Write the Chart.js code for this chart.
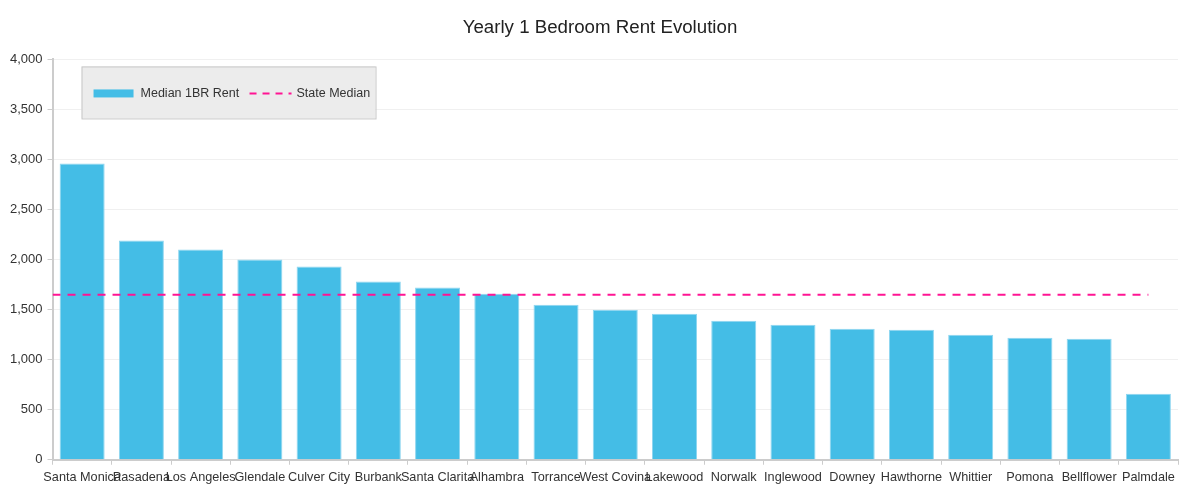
<!DOCTYPE html>
<html lang="en">
  <head>
    <meta charset="utf-8" />
    <title>Yearly 1 Bedroom Rent Evolution</title>
    <style>
      * {
        margin: 0;
        padding: 0;
      }
      body {
        background: #fff;
      }
      .chartBox {
        width: 1200px;
        height: 494px;
      }
    </style>
  </head>
  <body>
    <div class="chartBox">
      <canvas id="myChart"></canvas>
    </div>

    <script src="https://cdn.jsdelivr.net/npm/chart.js@4.4.1/dist/chart.umd.min.js"></script>

    <script>
      // data block
      const cities = [
        "Santa Monica", "Pasadena", "Los Angeles", "Glendale", "Culver City",
        "Burbank", "Santa Clarita", "Alhambra", "Torrance", "West Covina",
        "Lakewood", "Norwalk", "Inglewood", "Downey", "Hawthorne",
        "Whittier", "Pomona", "Bellflower", "Palmdale",
      ];
      const medianRent = [
        2960, 2190, 2100, 2000, 1930, 1780, 1720, 1660, 1550, 1500,
        1460, 1390, 1350, 1310, 1300, 1250, 1220, 1210, 660,
      ];
      const stateMedian = 1650;
      const yTicks = [0, 500, 1000, 1500, 2000, 2500, 3000, 3500, 4000];

      // the reference line runs from the left edge to the last bar's centre
      const stateLine = [
        { x: -0.5, y: stateMedian },
        { x: cities.length - 1, y: stateMedian },
      ];

      const barColor = "#44bde6";
      const lineColor = "#ff1493";
      const fontFamily = "'Liberation Sans', Arial, sans-serif";
      const titleText = "Yearly 1 Bedroom Rent Evolution";

      // title centred on the whole canvas (the built-in one only reserves space)
      const centerTitle = {
        id: "centerTitle",
        afterDraw(chart) {
          const { ctx, width } = chart;
          const box = chart.titleBlock;
          ctx.save();
          ctx.font = "18.7px " + fontFamily;
          ctx.fillStyle = "#222";
          ctx.textAlign = "center";
          ctx.textBaseline = "middle";
          ctx.fillText(titleText, width / 2, box.top + 8 + (box.height - 28) / 2);
          ctx.restore();
        },
      };

      // legend box drawn inside the plot area
      const boxLegend = {
        id: "boxLegend",
        afterDraw(chart) {
          const { ctx, chartArea } = chart;
          const x = chartArea.left + 29;
          const y = chartArea.top + 7;
          const w = 294;
          const h = 52;
          ctx.save();
          ctx.fillStyle = "#ececec";
          ctx.strokeStyle = "#c8c8c8";
          ctx.lineWidth = 1;
          ctx.fillRect(x, y, w, h);
          ctx.strokeRect(x + 0.5, y + 0.5, w, h);

          const cy = y + h / 2 + 1;
          ctx.fillStyle = barColor;
          ctx.fillRect(x + 12, cy - 4, 40, 8);

          ctx.font = "12.5px " + fontFamily;
          ctx.fillStyle = "#333";
          ctx.textBaseline = "middle";
          ctx.fillText("Median 1BR Rent", x + 59, cy);

          ctx.strokeStyle = lineColor;
          ctx.lineWidth = 2;
          ctx.setLineDash([7, 6]);
          ctx.beginPath();
          ctx.moveTo(x + 168, cy);
          ctx.lineTo(x + 210, cy);
          ctx.stroke();
          ctx.setLineDash([]);
          ctx.fillStyle = "#333";
          ctx.fillText("State Median", x + 215, cy);
          ctx.restore();
        },
      };

      // config block
      const config = {
        type: "bar",
        data: {
          labels: cities,
          datasets: [
            {
              type: "line",
              label: "State Median",
              data: stateLine,
              xAxisID: "x2",
              borderColor: lineColor,
              borderWidth: 2,
              borderDash: [8, 7],
              pointRadius: 0,
              fill: false,
            },
            {
              type: "bar",
              label: "Median 1BR Rent",
              data: medianRent,
              xAxisID: "x",
              grouped: false,
              backgroundColor: barColor,
              borderColor: "#8fd6f0",
              borderWidth: 1,
              barPercentage: 0.76,
              categoryPercentage: 1,
            },
          ],
        },
        options: {
          responsive: true,
          maintainAspectRatio: false,
          animation: false,
          layout: {
            padding: { left: 5, right: 22, top: 9, bottom: 4 },
          },
          plugins: {
            legend: { display: false },
            tooltip: { enabled: false },
            title: {
              display: true,
              text: titleText,
              color: "rgba(0,0,0,0)",
              font: { size: 18.7, weight: "normal", family: fontFamily },
              padding: { top: 8, bottom: 20 },
            },
          },
          scales: {
            x: {
              offset: true,
              grid: {
                offset: true,
                drawOnChartArea: false,
                drawTicks: true,
                tickLength: 5,
                color: "#cccccc",
              },
              border: { color: "#cccccc", width: 2 },
              ticks: {
                autoSkip: false,
                maxRotation: 0,
                minRotation: 0,
                color: "#333",
                padding: 5,
                font: { size: 12.7, family: fontFamily },
              },
            },
            x2: {
              type: "linear",
              display: false,
              offset: false,
              grid: { offset: false },
              min: -0.5,
              max: cities.length - 0.5,
            },
            y: {
              min: yTicks[0],
              max: yTicks[yTicks.length - 1],
              afterBuildTicks(axis) {
                axis.ticks = yTicks.map((v) => ({ value: v }));
              },
              grid: {
                color: "#f0f0f0",
                tickLength: 5,
                tickColor: "#cccccc",
              },
              border: { color: "#cccccc", width: 2 },
              ticks: {
                color: "#333",
                padding: 5,
                font: { size: 13, family: fontFamily },
                callback: (v) => v.toLocaleString("en-US"),
              },
            },
          },
        },
        plugins: [boxLegend, centerTitle],
      };

      // init render block
      const myChart = new Chart(document.getElementById("myChart"), config);
    </script>
  </body>
</html>
